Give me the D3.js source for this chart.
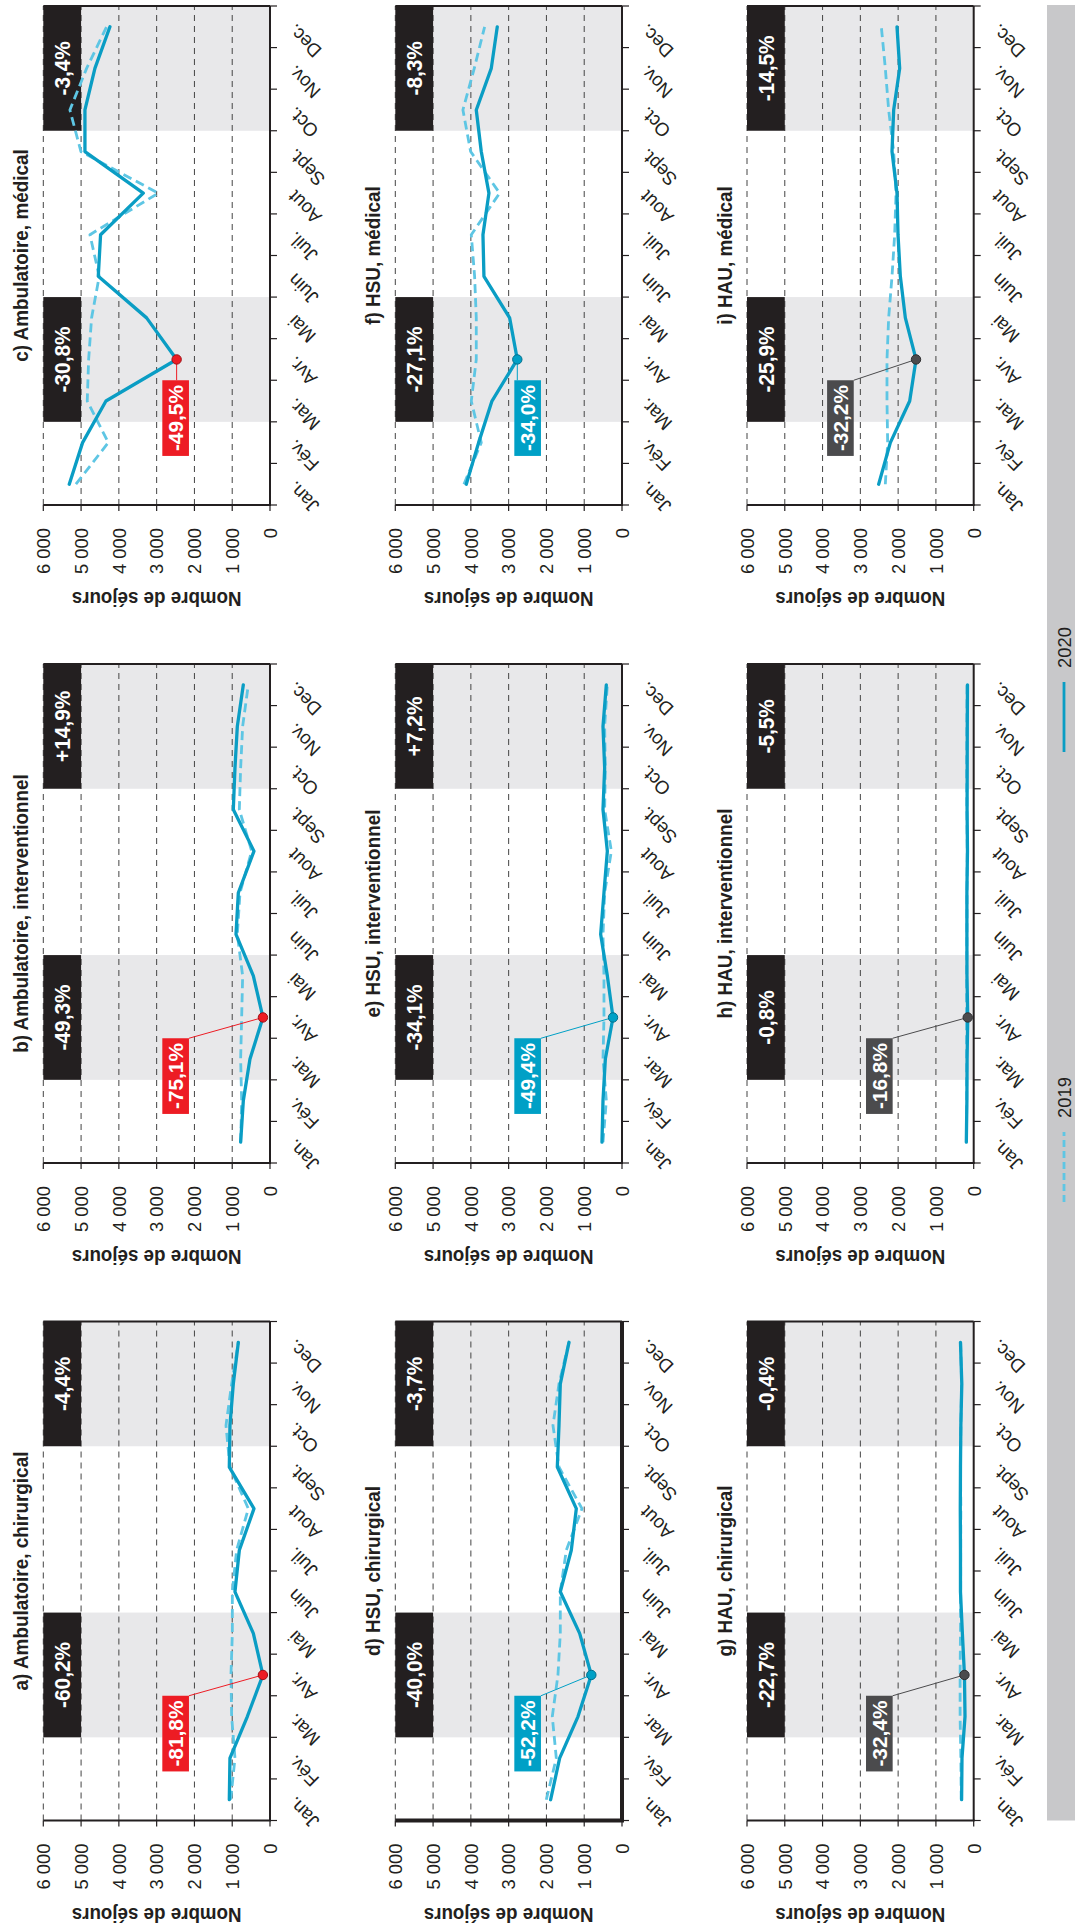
<!DOCTYPE html>
<html><head><meta charset="utf-8">
<script src="https://cdn.jsdelivr.net/npm/d3@7"></script>
<style>html,body{margin:0;padding:0;background:#fff;} svg{display:block;}</style>
</head><body>
<svg id="chart" width="1075" height="1932"></svg>
<script>
// ---------------- DATA ----------------
const months = ["Jan.","Fév.","Mar.","Avr.","Mai","Juin","Juil.","Aout","Sept.","Oct.","Nov.","Dec."];
const yTickValues = [0,1000,2000,3000,4000,5000,6000];
const yTickLabels = ["0","1 000","2 000","3 000","4 000","5 000","6 000"];
const shadedPeriods = [["Mar.","Mai"],["Oct.","Dec."]];
const seriesNames = ["2019","2020"];
const yAxisTitle = "Nombre de séjours";
const panelTitles = ["a) Ambulatoire, chirurgical","b) Ambulatoire, interventionnel","c) Ambulatoire, médical",
  "d) HSU, chirurgical","e) HSU, interventionnel","f) HSU, médical",
  "g) HAU, chirurgical","h) HAU, interventionnel","i) HAU, médical"];

const ambChir2019 = [1041, 927, 1015, 1033, 997, 997, 883, 574, 1060, 1165, 1015, 838];
const ambChir2020 = [1077, 1060, 600, 188, 441, 927, 812, 424, 1077, 1060, 971, 838];
const ambInterv2019 = [777, 750, 777, 750, 724, 865, 794, 485, 812, 777, 724, 574];
const ambInterv2020 = [777, 706, 530, 187, 441, 900, 838, 424, 971, 927, 865, 706];
const ambMed2019 = [5137, 4280, 4837, 4800, 4722, 4519, 4766, 2957, 5004, 5296, 4854, 4325];
const ambMed2020 = [5313, 4960, 4342, 2471, 3266, 4545, 4484, 3354, 4898, 4898, 4634, 4236];
const hsuChir2019 = [2004, 1739, 1845, 1695, 1633, 1633, 1474, 1059, 1668, 1827, 1668, 1403];
const hsuChir2020 = [1889, 1650, 1165, 812, 1121, 1633, 1342, 1209, 1712, 1668, 1633, 1403];
const hsuInterv2019 = [503, 415, 503, 477, 477, 503, 459, 282, 459, 441, 459, 388];
const hsuInterv2020 = [530, 503, 441, 238, 388, 565, 477, 388, 503, 459, 503, 415];
const hsuMed2019 = [4183, 3725, 3989, 3857, 3857, 3901, 3989, 3239, 4007, 4210, 3910, 3636];
const hsuMed2020 = [4121, 3795, 3442, 2771, 2974, 3654, 3680, 3522, 3725, 3857, 3460, 3301];
const hauChir2019 = [330, 340, 360, 360, 350, 345, 345, 340, 350, 340, 320, 345];
const hauChir2020 = [320, 310, 230, 245, 300, 350, 350, 355, 350, 340, 315, 350];
const hauInterv2019 = [190, 185, 185, 190, 185, 180, 178, 170, 180, 185, 180, 175];
const hauInterv2020 = [195, 180, 175, 158, 178, 180, 180, 165, 175, 172, 170, 165];
const hauMed2019 = [2339, 2277, 2295, 2295, 2251, 2162, 2092, 2056, 2118, 2251, 2339, 2445];
const hauMed2020 = [2515, 2206, 1694, 1527, 1809, 1942, 2003, 2030, 2162, 2118, 1959, 2030];

const pctPeriod1 = ["-60,2%","-49,3%","-30,8%","-40,0%","-34,1%","-27,1%","-22,7%","-0,8%","-25,9%"];
const pctPeriod2 = ["-4,4%","+14,9%","-3,4%","-3,7%","+7,2%","-8,3%","-0,4%","-5,5%","-14,5%"];
const pctApril = ["-81,8%","-75,1%","-49,5%","-52,2%","-49,4%","-34,0%","-32,4%","-16,8%","-32,2%"];
const calloutMonth = "Avr.";

const series2019 = [ambChir2019, ambInterv2019, ambMed2019, hsuChir2019, hsuInterv2019, hsuMed2019, hauChir2019, hauInterv2019, hauMed2019];
const series2020 = [ambChir2020, ambInterv2020, ambMed2020, hsuChir2020, hsuInterv2020, hsuMed2020, hauChir2020, hauInterv2020, hauMed2020];

// ---------------- LAYOUT / STYLE ----------------
const FRAME_W = 1932, FRAME_H = 1075;
const colX = [111.5, 769, 1427], plotW = 499;
const rowY = [43.3, 395.3, 747], plotH = 226.7;
const calloutTop = [2850,2850,2850,2850,2850,2850,2850,2850,3880];
const calloutSpan = 705;
const groupColor = ["#ed1c24", "#00a0c6", "#4b4b4d"];
const groupStroke = ["#9e1016", "#006f8c", "#2e2e30"];
const axisW = [2,2,2,4,2,2,2,2,2];
const C2019 = "#5ec6e4", C2020 = "#0a9dc4";
const FONT = "'Liberation Sans', Arial, Helvetica, sans-serif";
const INK = "#231f20";

const svg = d3.select("#chart");
const root = svg.append("g").attr("transform", `translate(0,${FRAME_W}) rotate(-90)`);

// width calibration against the widths measured on the original
function calib(str, size, weight, target) {
  const t = svg.append("text").attr("font-family", FONT).attr("font-size", size)
    .attr("font-weight", weight).text(str);
  const len = t.node().getComputedTextLength();
  t.remove();
  return len > 0 ? target / len : 1;
}
const ST = {
  title: {size: 20, weight: "bold", sx: calib("a) Ambulatoire, chirurgical", 20, "bold", 239)},
  ylab:  {size: 19.5, weight: "bold", sx: calib("Nombre de séjours", 19.5, "bold", 170)},
  tick:  {size: 19, weight: "normal", sx: calib("6 000", 19, "normal", 46)},
  box:   {size: 22, weight: "bold", sx: calib("-60,2%", 22, "bold", 66)},
  call:  {size: 20, weight: "bold", sx: calib("-81,8%", 20, "bold", 66)},
  leg:   {size: 19, weight: "normal", sx: calib("2019", 19, "normal", 41)}
};
const MST = {size: 19, weight: "normal", sx: ST.tick.sx};

function txt(parent, x, y, s, st, o) {
  return parent.append("text")
    .attr("transform", `translate(${x},${y}) rotate(${o.rot||0}) scale(${st.sx},1)`)
    .attr("text-anchor", o.anchor || "start")
    .attr("dy", o.dy || 0)
    .attr("font-family", FONT)
    .attr("font-size", st.size)
    .attr("font-weight", st.weight)
    .attr("fill", o.fill || INK)
    .text(s);
}

panelTitles.forEach((title, p) => {
  const row = Math.floor(p / 3), col = p % 3, grp = row;
  const w = plotW;
  const g = root.append("g").attr("transform", `translate(${colX[col]},${rowY[row]})`);
  const x = d3.scaleBand().domain(months).range([0, w]).padding(0);
  const bw = x.bandwidth();
  const y = d3.scaleLinear().domain([0, 6000]).range([plotH, 0]);
  const cx = m => x(m) + bw / 2;

  // shaded periods
  shadedPeriods.forEach(([s, e]) => {
    g.append("rect").attr("x", x(s)).attr("width", x(e) + bw - x(s))
      .attr("y", y(5000)).attr("height", y(0) - y(5000)).attr("fill", "#e8e8ea");
  });

  // gridlines
  g.selectAll(".grid").data(yTickValues.filter(v => v > 0)).enter().append("line")
    .attr("x1", 0).attr("x2", w).attr("y1", d => y(d)).attr("y2", d => y(d))
    .attr("stroke", "#444").attr("stroke-width", 1).attr("stroke-dasharray", "6,5");

  // black period boxes
  shadedPeriods.forEach(([s, e], k) => {
    const bx = x(s), bwid = x(e) + bw - x(s);
    g.append("rect").attr("x", bx).attr("width", bwid)
      .attr("y", y(6000)).attr("height", y(5000) - y(6000)).attr("fill", INK);
    txt(g, bx + bwid / 2, (y(6000) + y(5000)) / 2, k === 0 ? pctPeriod1[p] : pctPeriod2[p], ST.box,
      {anchor: "middle", dy: "0.36em", fill: "#fff"});
  });

  // axes frame
  g.append("line").attr("x1", 0).attr("x2", w).attr("y1", y(0)).attr("y2", y(0))
    .attr("stroke", INK).attr("stroke-width", axisW[p]);
  g.append("line").attr("x1", 0).attr("x2", 0).attr("y1", y(6000)).attr("y2", y(0) + axisW[p] / 2)
    .attr("stroke", INK).attr("stroke-width", axisW[p]);
  g.append("line").attr("x1", w).attr("x2", w).attr("y1", y(6000)).attr("y2", y(0))
    .attr("stroke", INK).attr("stroke-width", 2);

  // month ticks (band boundaries)
  const bounds = months.map(m => x(m)).concat([w]);
  g.selectAll(".mt").data(bounds).enter().append("line")
    .attr("x1", d => d).attr("x2", d => d).attr("y1", y(0)).attr("y2", y(0) + 7)
    .attr("stroke", INK).attr("stroke-width", 1.2);
  // value ticks
  g.selectAll(".vt").data(yTickValues).enter().append("line")
    .attr("x1", -6).attr("x2", 0).attr("y1", d => y(d)).attr("y2", d => y(d))
    .attr("stroke", INK).attr("stroke-width", 1.2);

  // y tick labels
  yTickValues.forEach((v, i) => {
    txt(g, -23, y(v), yTickLabels[i], ST.tick, {anchor: "end", dy: "0.36em"});
  });
  // month labels
  months.forEach(m => {
    txt(g, cx(m) + 4, y(0) + 26, m, MST, {anchor: "end", rot: -45});
  });
  // y axis title
  txt(g, -87, plotH / 2, yAxisTitle, ST.ylab, {anchor: "middle", rot: -90});
  // panel title
  txt(g, w / 2, -15, title, ST.title, {anchor: "middle"});

  // lines
  const line = d3.line().x((d, i) => cx(months[i])).y(d => y(d));
  g.append("path").attr("d", line(series2019[p])).attr("fill", "none")
    .attr("stroke", C2019).attr("stroke-width", 2.8).attr("stroke-dasharray", "9,5")
    .attr("stroke-linejoin", "round");
  g.append("path").attr("d", line(series2020[p])).attr("fill", "none")
    .attr("stroke", C2020).attr("stroke-width", 3.3).attr("stroke-linejoin", "round")
    .attr("stroke-linecap", "round");

  // callout
  const mi = months.indexOf(calloutMonth);
  const pv = series2020[p][mi];
  const px = cx(calloutMonth), py = y(pv);
  const boxRight = x(calloutMonth), boxW = bw * 1.82;
  const boxTop = y(calloutTop[p]), boxBot = y(calloutTop[p] - calloutSpan);
  const ey = Math.max(boxTop, Math.min(boxBot, py));
  g.append("line").attr("x1", px).attr("y1", py).attr("x2", boxRight).attr("y2", ey)
    .attr("stroke", groupColor[grp]).attr("stroke-width", 1);
  g.append("rect").attr("x", boxRight - boxW).attr("width", boxW)
    .attr("y", boxTop).attr("height", boxBot - boxTop).attr("fill", groupColor[grp]);
  txt(g, boxRight - boxW / 2, (boxTop + boxBot) / 2, pctApril[p], ST.call,
    {anchor: "middle", dy: "0.36em", fill: "#fff"});
  g.append("circle").attr("cx", px).attr("cy", py).attr("r", 4.7)
    .attr("fill", groupColor[grp]).attr("stroke", groupStroke[grp]).attr("stroke-width", 1);
});

// legend bar
root.append("rect").attr("x", colX[0]).attr("y", 1047).attr("width", 1927 - colX[0]).attr("height", FRAME_H - 1047)
  .attr("fill", "#c8c8ca");
const legendX = [730, 1180];
seriesNames.forEach((name, i) => {
  const lg = root.append("g").attr("transform", `translate(${legendX[i]},1064)`);
  lg.append("line").attr("x1", 0).attr("x2", 70).attr("y1", 0).attr("y2", 0)
    .attr("stroke", i === 0 ? C2019 : C2020).attr("stroke-width", 2.8)
    .attr("stroke-dasharray", i === 0 ? "7,4" : null);
  txt(lg, 84, 0, name, ST.leg, {anchor: "start", dy: "0.36em"});
});
</script>
</body></html>
